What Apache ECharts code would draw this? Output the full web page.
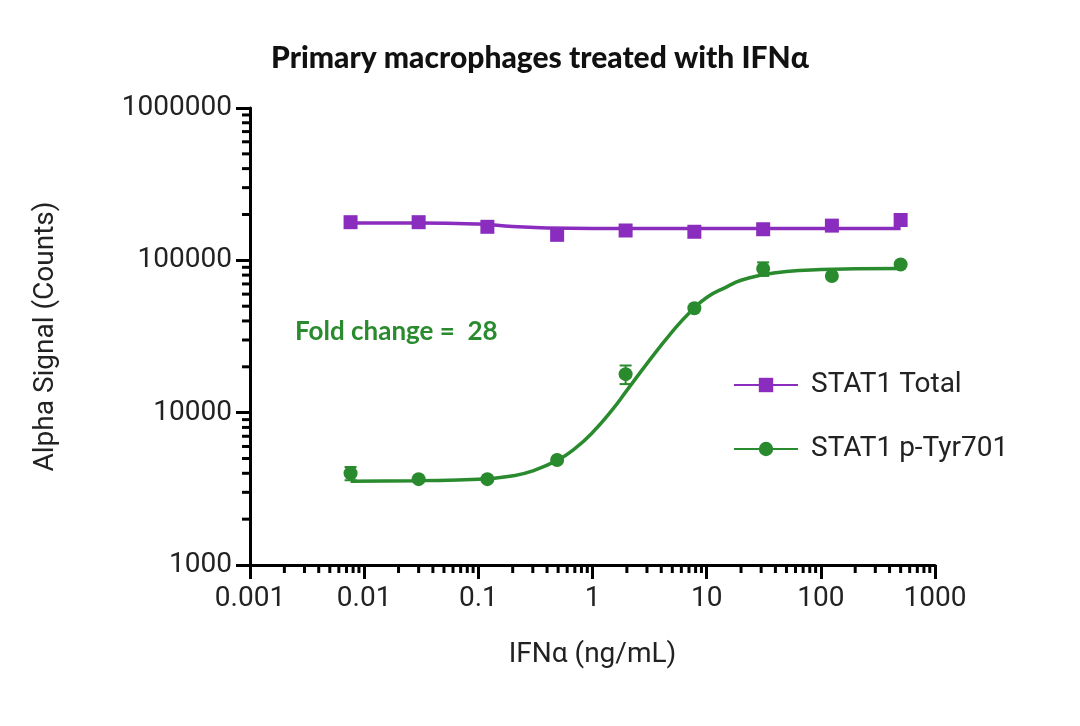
<!DOCTYPE html>
<html>
<head>
<meta charset="utf-8">
<script src="https://cdn.jsdelivr.net/npm/echarts@6/dist/echarts.min.js"></script>
<style>html,body{margin:0;background:#fff}#c{width:1080px;height:726px}</style>
</head>
<body>
<div id="c"></div>
<script>
// dose points (ng/mL), 4-fold dilutions
var doses = [0.0076, 0.03, 0.12, 0.49, 1.95, 7.8, 31.25, 125, 500];
var totalValues = [178000, 178000, 166000, 147000, 157000, 154000, 160000, 169000, 184000];
var totalErr = [0, 0, 0, 0, 0, 0, 0, 0, 0];
var pTyrValues = [4000, 3660, 3660, 4890, 17900, 48500, 88000, 79000, 94000];
var pTyrErr = [400, 0, 0, 0, 2500, 0, 9000, 0, 0];

// fitted curves
var totalCurve = [[0.0076, 176000], [0.03, 176000], [0.1, 173000], [0.2, 167000], [0.4, 163000], [1, 162000], [10, 162000], [100, 162000], [500, 162000]];
var pTyrCurve = [[0.0076, 3550], [0.03, 3580], [0.1, 3650], [0.2, 3850], [0.3, 4150], [0.5, 4900], [0.7, 5800], [1, 7400], [1.5, 10500], [2, 14000], [3, 21000], [5, 34000], [7, 45000], [10, 57000], [15, 67000], [20, 74000], [30, 80000], [50, 84500], [100, 87000], [200, 88000], [500, 88500]];

var xTicks = [0.001, 0.01, 0.1, 1, 10, 100, 1000];
var yTicks = [1000, 10000, 100000, 1000000];

var purple = '#8a2dbf', green = '#2a8a2e';
var font = 'Roboto';

var xMinor = [], yMinor = [];
xTicks.slice(0, -1).forEach(function (d) { for (var k = 2; k <= 9; k++) xMinor.push([d * k]); });
yTicks.slice(0, -1).forEach(function (d) { for (var k = 2; k <= 9; k++) yMinor.push([d * k]); });

function errSeries(vals, errs, color) {
  var data = [];
  doses.forEach(function (d, i) { if (errs[i]) data.push([d, vals[i] - errs[i], vals[i] + errs[i]]); });
  return {
    type: 'custom', name: 'err', z: 5, data: data,
    renderItem: function (params, api) {
      var lo = api.coord([api.value(0), api.value(1)]);
      var hi = api.coord([api.value(0), api.value(2)]);
      var s = { stroke: color, lineWidth: 2 };
      return { type: 'group', children: [
        { type: 'line', shape: { x1: lo[0], y1: lo[1], x2: hi[0], y2: hi[1] }, style: s },
        { type: 'line', shape: { x1: lo[0] - 6, y1: lo[1], x2: lo[0] + 6, y2: lo[1] }, style: s },
        { type: 'line', shape: { x1: hi[0] - 6, y1: hi[1], x2: hi[0] + 6, y2: hi[1] }, style: s }
      ] };
    }
  };
}

function minorSeries(data, horizontal) {
  return {
    type: 'custom', name: 'minor', data: data, silent: true, clip: false,
    renderItem: function (params, api) {
      var p = horizontal ? api.coord([api.value(0), 1000]) : api.coord([0.001, api.value(0)]);
      var shape = horizontal ? { x1: p[0], y1: p[1], x2: p[0], y2: p[1] + 8 } : { x1: p[0], y1: p[1], x2: p[0] - 8, y2: p[1] };
      return { type: 'line', shape: shape, style: { stroke: '#000', lineWidth: 3 } };
    }
  };
}

var chart = echarts.init(document.getElementById('c'));
chart.setOption({
  animation: false,
  title: { text: 'Primary macrophages treated with IFNα', left: 'center', top: 38,
    textStyle: { fontFamily: 'Lato', fontWeight: 900, fontSize: 30, color: '#111' } },
  grid: { left: 250, right: 145, top: 108, bottom: 161 },
  legend: {
    data: ['STAT1 Total', 'STAT1 p-Tyr701'], orient: 'vertical', left: 728, top: 366,
    itemGap: 36, itemWidth: 64, itemHeight: 18,
    textStyle: { fontFamily: font, fontSize: 28, color: '#222', padding: [0, 0, 0, 8] }
  },
  xAxis: {
    type: 'log', logBase: 10, min: 0.001, max: 1000,
    name: 'IFNα (ng/mL)', nameLocation: 'middle', nameGap: 76,
    nameTextStyle: { fontFamily: font, fontSize: 28, color: '#222' },
    axisLine: { lineStyle: { color: '#000', width: 3 } },
    axisTick: { length: 14, lineStyle: { width: 3 } },
    axisLabel: { fontFamily: font, fontSize: 28, color: '#222', margin: 20,
      formatter: function (v) { return String(+v.toPrecision(6)); } },
    splitLine: { show: false }
  },
  yAxis: {
    type: 'log', logBase: 10, min: 1000, max: 1000000,
    name: 'Alpha Signal (Counts)', nameLocation: 'middle', nameGap: 190,
    nameTextStyle: { fontFamily: font, fontSize: 28, color: '#222' },
    axisLine: { show: true, lineStyle: { color: '#000', width: 3 } },
    axisTick: { show: true, length: 14, lineStyle: { width: 3 } },
    axisLabel: { fontFamily: font, fontSize: 28, color: '#222', margin: 18,
      formatter: function (v) { return String(Math.round(v)); } },
    splitLine: { show: false }
  },
  graphic: [{ type: 'text', left: 295, top: 319,
    style: { text: 'Fold change =  28', fill: green, font: 'bold 26px Lato' } }],
  series: [
    { type: 'line', name: 'STAT1 Total', data: totalCurve, smooth: true, showSymbol: false,
      symbol: 'rect', symbolSize: 15, itemStyle: { color: purple }, lineStyle: { color: purple, width: 3.5 } },
    { type: 'line', name: 'STAT1 p-Tyr701', data: pTyrCurve, smooth: true, showSymbol: false,
      symbol: 'circle', symbolSize: 16, itemStyle: { color: green }, lineStyle: { color: green, width: 3.5 } },
    { type: 'scatter', name: 'totalPts', symbol: 'rect', symbolSize: 14, itemStyle: { color: purple, opacity: 1 },
      data: doses.map(function (d, i) { return [d, totalValues[i]]; }) },
    { type: 'scatter', name: 'pTyrPts', symbol: 'circle', symbolSize: 14, itemStyle: { color: green, opacity: 1 },
      data: doses.map(function (d, i) { return [d, pTyrValues[i]]; }) },
    errSeries(totalValues, totalErr, purple),
    errSeries(pTyrValues, pTyrErr, green),
    minorSeries(xMinor, true),
    minorSeries(yMinor, false)
  ]
});
</script>
</body>
</html>
